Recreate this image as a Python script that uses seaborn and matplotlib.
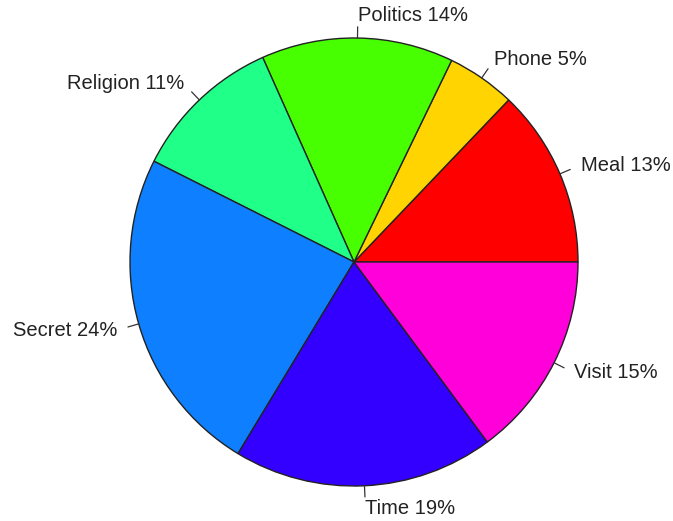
import numpy as np
import matplotlib
matplotlib.use("Agg")
import matplotlib.pyplot as plt
import seaborn as sns

# Share of topics (percent)
topics = ["Meal", "Phone", "Politics", "Religion", "Secret", "Time", "Visit"]
shares = [13, 5, 14, 11, 24, 19, 15]
slice_colors = ["#FF0000", "#FFD400", "#47FF00", "#20FF88", "#0D7FFF", "#3300FF", "#FF00DB"]

sns.set_theme(style="white")
plt.rcParams["font.family"] = ["Liberation Sans", "DejaVu Sans"]

W, H = 673, 521
cx, cy, R = 354, 262, 224  # pie centre and radius in pixels

fig = plt.figure(figsize=(W / 100, H / 100), dpi=100)
ax = fig.add_axes([0, 0, 1, 1])

palette = sns.color_palette(slice_colors)
wedges, _ = ax.pie(
    shares,
    colors=palette,
    startangle=0,
    counterclock=True,
    radius=1.0,
    wedgeprops=dict(edgecolor="#222222", linewidth=1.0),
)

labels = [f"{t} {s}%" for t, s in zip(topics, shares)]
for w, lab in zip(wedges, labels):
    mid = np.deg2rad((w.theta1 + w.theta2) / 2)
    px, py = np.cos(mid), np.sin(mid)
    ax.plot([px, 1.05 * px], [py, 1.05 * py], color="#333333", lw=0.9)
    ax.text(1.1 * px, 1.1 * py, lab, ha="left" if px >= 0 else "right",
            va="center", fontsize=14.5, color="#222222")

ax.set_aspect("auto")
ax.set_xlim(-cx / R, (W - cx) / R)
ax.set_ylim(-(H - cy) / R, cy / R)
ax.axis("off")

fig.savefig("out.png", dpi=100, facecolor="white")
